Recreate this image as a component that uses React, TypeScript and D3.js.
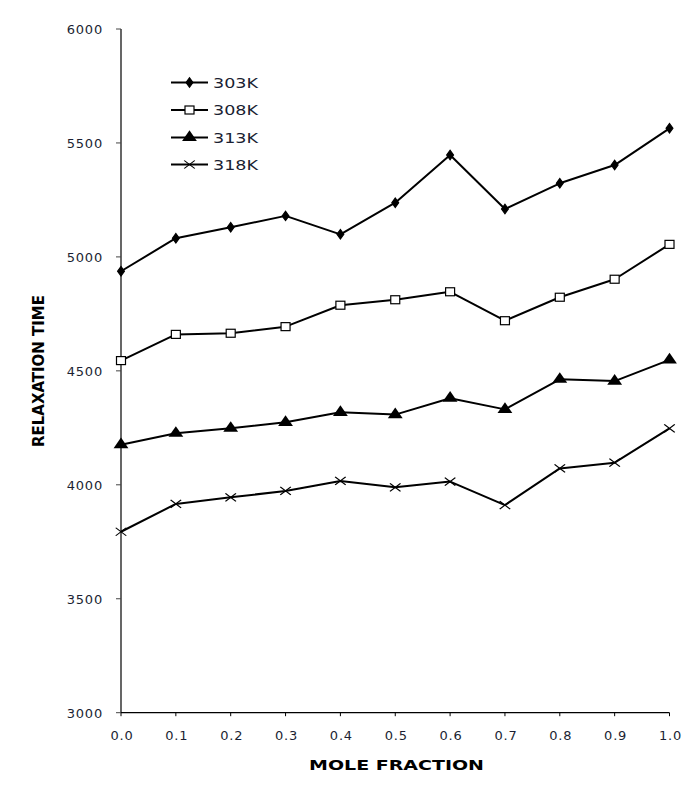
import { line, scaleLinear, symbol, symbolDiamond, symbolTriangle, symbolX, range } from "d3";

const moleFraction = [0, 0.1, 0.2, 0.3, 0.4, 0.5, 0.6, 0.7, 0.8, 0.9, 1.0];
const t303 = [4937, 5082, 5130, 5180, 5099, 5238, 5447, 5210, 5323, 5403, 5564];
const t308 = [4545, 4660, 4665, 4694, 4788, 4812, 4847, 4720, 4823, 4902, 5055];
const t313 = [4176, 4226, 4248, 4274, 4318, 4308, 4380, 4331, 4463, 4455, 4548];
const t318 = [3794, 3916, 3945, 3973, 4017, 3989, 4014, 3911, 4072, 4097, 4248];
const seriesNames = ["303K", "308K", "313K", "318K"];
const yTicks = [3000, 3500, 4000, 4500, 5000, 5500, 6000];

const W = 696;
const H = 792;
const left = 121;
const right = 669.5;
const top = 29;
const bottom = 712.7;
const font = "'DejaVu Sans', Verdana, sans-serif";

const x = scaleLinear().domain([0, 1]).range([left, right]);
const y = scaleLinear().domain([3000, 6000]).range([bottom, top]);

type Pt = { xv: number; yv: number };

const Marker = ({ kind, cx, cy }: { kind: number; cx: number; cy: number }) => {
  if (kind === 0) {
    return (
      <path
        d={symbol().type(symbolDiamond).size(26)() as string}
        transform={`translate(${cx},${cy}) scale(1.25,1)`}
        fill="#000"
        stroke="#000"
        strokeWidth={1}
      />
    );
  }
  if (kind === 1) {
    return <rect x={cx - 4.5} y={cy - 4} width={9} height={8} fill="#fff" stroke="#000" strokeWidth={1.2} />;
  }
  if (kind === 2) {
    return (
      <path
        d={symbol().type(symbolTriangle).size(66)() as string}
        transform={`translate(${cx},${cy}) scale(1.2,1)`}
        fill="#000"
      />
    );
  }
  return (
    <path
      d={symbol().type(symbolX).size(48)() as string}
      transform={`translate(${cx},${cy}) scale(1.25,0.95)`}
      fill="none"
      stroke="#000"
      strokeWidth={1.1}
    />
  );
};

export default function App() {
  const all = [t303, t308, t313, t318];
  const gen = line<Pt>()
    .x((d) => x(d.xv))
    .y((d) => y(d.yv));

  const legendY = [82.5, 110, 137.5, 164.5];

  return (
    <svg
      width={W}
      height={H}
      viewBox={`0 0 ${W} ${H}`}
      style={{ position: "absolute", left: 0, top: 0, background: "#fff" }}
    >
      <rect width={W} height={H} fill="#fff" />

      {/* y axis */}
      <line x1={left} x2={left} y1={top} y2={bottom} stroke="#000" strokeWidth={1.2} />
      {yTicks.map((t) => (
        <g key={t}>
          <line x1={left - 5} x2={left} y1={y(t)} y2={y(t)} stroke="#444" strokeWidth={1} />
          <text
            x={103}
            y={y(t) + 1.5}
            textAnchor="end"
            dominantBaseline="middle"
            fontFamily={font}
            fontSize={13}
            letterSpacing={0.8}
            fill="#1b1f33"
          >
            {t}
          </text>
        </g>
      ))}

      {/* x axis */}
      <line x1={left} x2={right} y1={bottom} y2={bottom} stroke="#000" strokeWidth={1.2} />
      {range(0, 11).map((i) => {
        const v = i / 10;
        return (
          <g key={i}>
            <line x1={x(v)} x2={x(v)} y1={bottom} y2={bottom + 3.5} stroke="#000" strokeWidth={1} />
            <text
              x={x(v) + 1}
              y={736}
              textAnchor="middle"
              dominantBaseline="middle"
              fontFamily={font}
              fontSize={13}
              letterSpacing={0.8}
              fill="#1b1f33"
            >
              {v.toFixed(1)}
            </text>
          </g>
        );
      })}

      {/* axis titles */}
      <text
        x={396.5}
        y={766}
        textAnchor="middle"
        dominantBaseline="middle"
        fontFamily={font}
        fontWeight="bold"
        fontSize={14.5}
        textLength={175}
        lengthAdjust="spacingAndGlyphs"
        fill="#000"
      >
        MOLE FRACTION
      </text>
      <text
        transform="translate(39.5,371) rotate(-90)"
        textAnchor="middle"
        dominantBaseline="middle"
        fontFamily={font}
        fontWeight="bold"
        fontSize={15}
        textLength={152}
        lengthAdjust="spacingAndGlyphs"
        fill="#000"
      >
        RELAXATION  TIME
      </text>

      {/* series */}
      {all.map((vals, si) => {
        const pts: Pt[] = moleFraction.map((m, i) => ({ xv: m, yv: vals[i] }));
        return (
          <g key={si}>
            <path d={gen(pts) as string} fill="none" stroke="#000" strokeWidth={2} strokeLinejoin="round" />
            {pts.map((p, i) => (
              <Marker key={i} kind={si} cx={x(p.xv)} cy={y(p.yv)} />
            ))}
          </g>
        );
      })}

      {/* legend */}
      {seriesNames.map((name, i) => (
        <g key={name}>
          <line x1={171} x2={208} y1={legendY[i]} y2={legendY[i]} stroke="#000" strokeWidth={2} />
          <Marker kind={i} cx={189.5} cy={legendY[i]} />
          <text
            x={213}
            y={legendY[i] + 1}
            dominantBaseline="middle"
            fontFamily={font}
            fontSize={13.5}
            textLength={45}
            lengthAdjust="spacingAndGlyphs"
            fill="#1b1f33"
          >
            {name}
          </text>
        </g>
      ))}
    </svg>
  );
}
